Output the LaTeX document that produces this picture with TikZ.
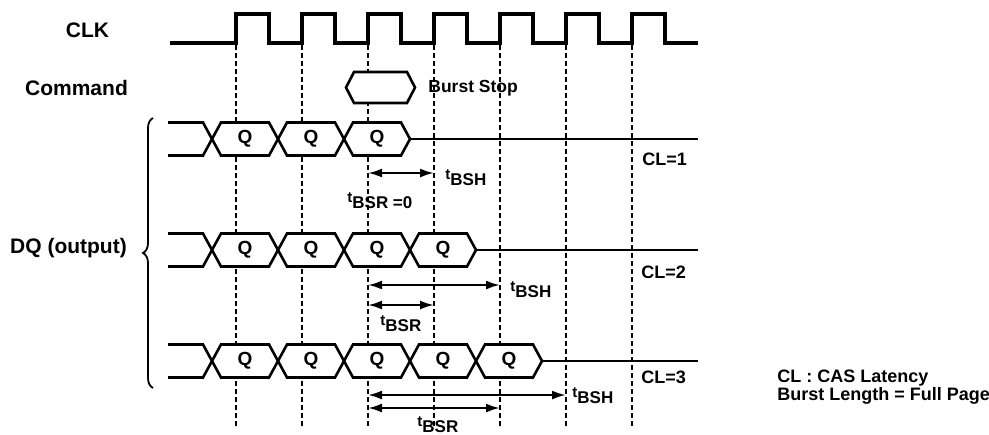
\documentclass[tikz,border=0pt]{standalone}
\usepackage{fontspec}
\setmainfont{Liberation Sans}
\usetikzlibrary{arrows.meta,decorations.pathreplacing}

\newcommand{\tlab}[1]{\raisebox{0.6ex}{\fontsize{7.5}{7.5}\selectfont t}#1}

\begin{document}
\begin{tikzpicture}[x=0.5pt,y=-0.5pt,
  biglbl/.style={inner sep=0pt,font=\bfseries\fontsize{10.5}{12}\selectfont},
  cllbl/.style={inner sep=0pt,font=\bfseries\fontsize{9}{10}\selectfont},
  qlbl/.style={inner sep=0pt,font=\bfseries\fontsize{9.5}{10}\selectfont},
  tlbl/.style={inner sep=0pt,font=\bfseries\fontsize{8.5}{10}\selectfont},
  clkline/.style={line width=1.6pt},
  bus/.style={line width=1.3pt},
  edgeline/.style={line width=0.7pt,dash pattern=on 2.5pt off 1.5pt},
  tarrow/.style={line width=1.1pt,{Latex[length=7pt,width=4.5pt]}-{Latex[length=7pt,width=4.5pt]}}]
\useasboundingbox (0,0) rectangle (989,434);

% clock edges
\foreach \k in {0,...,6}
  \draw[edgeline] ({236+66*\k},45) -- ({236+66*\k},428);

% clock
\draw[clkline] (170,43)
  \foreach \k in {0,...,6} { -- ({236+66*\k},43) -- ({236+66*\k},14) -- ({269+66*\k},14) -- ({269+66*\k},43) }
  -- (698,43);
\node[biglbl,anchor=base] (clk) at (87.5,37) {CLK};

% command
\node[biglbl,anchor=base] (cmd) at (76.5,95) {Command};
\draw[bus,fill=white] (346,87.5) -- (354,72) -- (407,72) -- (415,87.5) -- (407,103) -- (354,103) -- cycle;
\node[tlbl,font=\bfseries\fontsize{8.75}{10}\selectfont,anchor=base west] (stop) at (428,92) {Burst Stop};

% data out, one row per latency
\foreach \row/\yy/\n in {1/139/3,2/250/4,3/361/5} {
  \draw[bus] (168,\yy-16.5) -- (203,\yy-16.5) -- (212,\yy) -- (203,\yy+16.5) -- (168,\yy+16.5);
  \foreach \k in {1,...,\n} {
    \pgfmathsetmacro\xa{212+66*(\k-1)}
    \draw[bus,fill=white] (\xa,\yy) -- (\xa+9,\yy-16.5) -- (\xa+57,\yy-16.5)
      -- (\xa+66,\yy) -- (\xa+57,\yy+16.5) -- (\xa+9,\yy+16.5) -- cycle;
    \node[qlbl] (q\row\k) at (\xa+33,\yy) {Q};
  }
  \draw[bus] (212+66*\n,\yy) -- (698,\yy);
}
\node[biglbl,anchor=base] (dq) at (68.5,253) {DQ (output)};
\draw[line width=0.9pt,decorate,decoration={brace,amplitude=5pt}] (153,388) -- (153,118);

\node[cllbl,anchor=base west] (cl1) at (642,165) {CL=1};
\node[cllbl,anchor=base west] (cl2) at (641,278) {CL=2};
\node[cllbl,anchor=base west] (cl3) at (641,383) {CL=3};

% burst stop timing
\coordinate (s1) at (368,173); \coordinate (h1) at (434,173);
\coordinate (s2) at (368,285); \coordinate (h2) at (500,285);
\coordinate (s3) at (368,305); \coordinate (r2) at (434,305);
\coordinate (s4) at (368,395); \coordinate (h3) at (566,395);
\coordinate (s5) at (368,408); \coordinate (r3) at (500,408);
\draw[tarrow] (s1) -- (h1);
\draw[tarrow] (s2) -- (h2);
\draw[tarrow] (s3) -- (r2);
\draw[tarrow] (s4) -- (h3);
\draw[tarrow] (s5) -- (r3);
\node[tlbl,anchor=base west] (bsh1) at (445,185) {\tlab{BSH}};
\node[tlbl,anchor=base west] (bsr1) at (347,208) {\tlab{BSR =0}};
\node[tlbl,anchor=base west] (bsh2) at (510,297) {\tlab{BSH}};
\node[tlbl,anchor=base west] (bsr2) at (380,331) {\tlab{BSR}};
\node[tlbl,anchor=base west] (bsh3) at (572,403) {\tlab{BSH}};
\node[tlbl,anchor=base west] (bsr3) at (417,432) {\tlab{BSR}};

\node[cllbl,anchor=base west] (note1) at (777,382) {CL : CAS Latency};
\node[cllbl,anchor=base west] (note2) at (777,400) {Burst Length = Full Page};
\end{tikzpicture}
\end{document}
